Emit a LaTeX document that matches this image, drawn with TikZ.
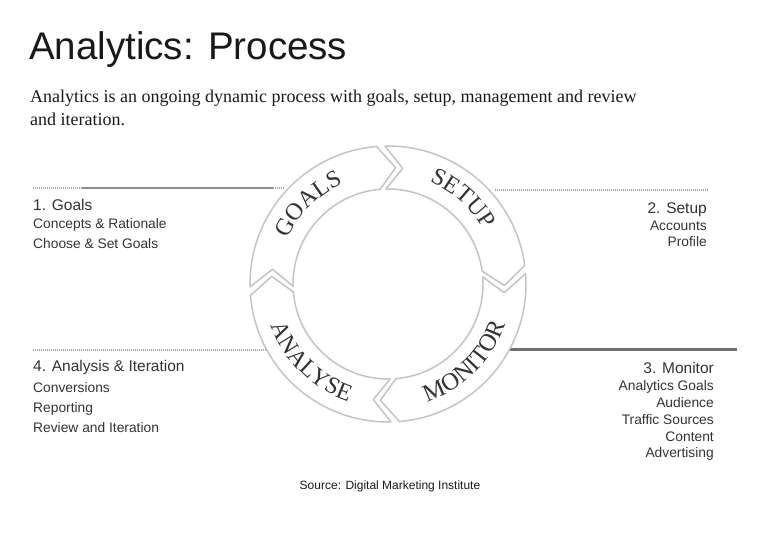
\documentclass[tikz,border=0pt]{standalone}
\usepackage{fontspec}
\setmainfont{Liberation Serif}
\newfontfamily\arialfont{Liberation Sans}
\newfontfamily\ringfont{Liberation Serif}
\usetikzlibrary{decorations.text,positioning}
\definecolor{ringgray}{HTML}{C4C4C4}
\definecolor{textgray}{HTML}{333333}
\definecolor{rulegray}{HTML}{8C8C8C}
\definecolor{darkrule}{HTML}{6E6E6E}
\definecolor{dotgray}{HTML}{A8A8A8}
\tikzstyle{seg}=[draw=ringgray,fill=white,line width=1.5pt,line join=round]
\tikzstyle{dotrule}=[draw=dotgray,line width=2pt,dash pattern=on 1pt off 1pt]
\tikzstyle{head}=[inner sep=0pt,text=textgray,font=\arialfont\fontsize{15.5}{18}\selectfont]
\tikzstyle{items}=[inner sep=0pt,text=textgray]
\tikzstyle{ringtext}=[decorate,decoration={text along path,text align=center,text color=textgray}]

\begin{document}
\begin{tikzpicture}[x=1pt,y=1pt]
\useasboundingbox (0,0) rectangle (780,540);
%Heading
	\node[anchor=base west,inner sep=0pt,text=black!90,font=\arialfont\fontsize{38.5}{44}\selectfont] (title) at (29,480) {Analytics: Process};
	\node[anchor=base west,inner sep=0pt,text=black!90,align=left,font=\fontsize{18}{23}\selectfont] (intro) at (30,414) {Analytics is an ongoing dynamic process with goals, setup, management and review\\and iteration.};% base = last line
%Rules
	\coordinate (ruleA) at (33,352) ; \coordinate (ruleAend) at (285,352) ;
	\coordinate (solidA) at (82,352) ; \coordinate (solidAend) at (273,352) ;
	\coordinate (ruleB) at (495,350) ; \coordinate (ruleBend) at (708,350) ;
	\coordinate (ruleC) at (33,190) ; \coordinate (ruleCend) at (268,190) ;
	\coordinate (ruleD) at (510,190) ; \coordinate (ruleDend) at (737,190) ;
	\draw[dotrule] (ruleA) -- (ruleAend);
	\draw[draw=rulegray,line width=2pt] (solidA) -- (solidAend);
	\draw[dotrule] (ruleB) -- (ruleBend);
	\draw[dotrule] (ruleC) -- (ruleCend);
	\draw[draw=darkrule,line width=3pt] (ruleD) -- (ruleDend);
%Cycle (clockwise arrows)
	\coordinate (C) at (388,256) ;
	\begin{scope}[shift={(C)}]
	\draw[seg] (181.25:138) arc[start angle=181.25,end angle=94.75,radius=138] -- (86.25:116.5) -- (94.75:95) arc[start angle=94.75,end angle=181.25,radius=95] -- (172.75:116.5) -- cycle;
	\draw[seg] (91.25:138) arc[start angle=91.25,end angle=7.75,radius=138] -- (-0.75:116.5) -- (7.75:95) arc[start angle=7.75,end angle=91.25,radius=95] -- (82.75:116.5) -- cycle;
	\draw[seg] (4.25:138) arc[start angle=4.25,end angle=-85.25,radius=138] -- (-93.75:116.5) -- (-85.25:95) arc[start angle=-85.25,end angle=4.25,radius=95] -- (-4.25:116.5) -- cycle;
	\draw[seg] (-88.75:138) arc[start angle=-88.75,end angle=-175.25,radius=138] -- (-183.75:116.5) -- (-175.25:95) arc[start angle=-175.25,end angle=-88.75,radius=95] -- (-97.25:116.5) -- cycle;
	%labels on the ring (top ones run clockwise, bottom ones anticlockwise)
	\path[ringtext,decoration={text={|\ringfont\fontsize{24}{24}\selectfont|GOALS}}] (175:110) arc[start angle=175,end angle=95,radius=110];
	\path[ringtext,decoration={text={|\ringfont\fontsize{24}{24}\selectfont|SETUP}}] (88.7:110) arc[start angle=88.7,end angle=8.7,radius=110];
	\path[ringtext,decoration={text={|\ringfont\fontsize{24.5}{24}\selectfont|MONITOR}}] (-85.25:124) arc[start angle=-85.25,end angle=-5.25,radius=124];
	\path[ringtext,decoration={text={|\ringfont\fontsize{24}{24}\selectfont|ANALYSE}}] (185.5:124) arc[start angle=185.5,end angle=265.5,radius=124];
	\end{scope}
%Steps
	\node[head,anchor=base west] (goals) at (33,329.5) {1. Goals};
	\node[items,anchor=base west,align=left,font=\arialfont\fontsize{13.8}{20}\selectfont] (goalsitems) at (33,291) {Concepts \& Rationale\\Choose \& Set Goals};
	\node[head,anchor=base east] (setup) at (707,326.5) {2. Setup};
	\node[items,anchor=base east,align=right,font=\arialfont\fontsize{13.8}{16}\selectfont] (setupitems) at (707,293) {Accounts\\Profile};
	\node[head,anchor=base west] (analysis) at (33,168.5) {4. Analysis \& Iteration};
	\node[items,anchor=base west,align=left,font=\arialfont\fontsize{13.8}{20.3}\selectfont] (analysisitems) at (33,107) {Conversions\\Reporting\\Review and Iteration};
	\node[head,anchor=base east] (monitor) at (714,166.5) {3. Monitor};
	\node[items,anchor=base east,align=right,font=\arialfont\fontsize{13.8}{16.8}\selectfont] (monitoritems) at (714,82) {Analytics Goals\\Audience\\Traffic Sources\\Content\\Advertising};
%Source
	\node[anchor=base,inner sep=0pt,text=black!90,font=\arialfont\fontsize{12}{14}\selectfont] (source) at (390,50) {Source: Digital Marketing Institute};
\end{tikzpicture}
\end{document}
